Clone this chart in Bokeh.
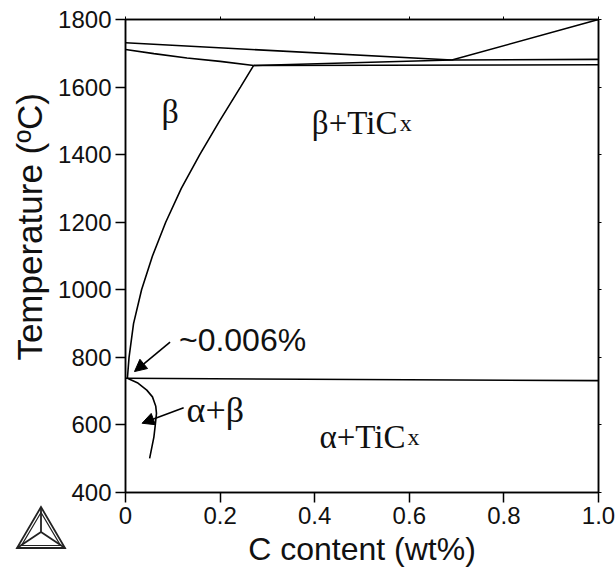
from bokeh.plotting import figure
from bokeh.models import (Range1d, FixedTicker, LinearAxis, Arrow, NormalHead,
                          Label, GridBox, Div)
from bokeh.embed import file_html
from bokeh.resources import INLINE

# ---------------- data ----------------
x_ticks = [0.0, 0.2, 0.4, 0.6, 0.8, 1.0]
x_tick_labels = ["0", "0.2", "0.4", "0.6", "0.8", "1.0"]
y_ticks = [400, 600, 800, 1000, 1200, 1400, 1600, 1800]

# liquidus
liq_x = [0.0, 0.69, 1.0]
liq_t = [1731, 1680, 1800]
# beta solidus
sol_x = [0.0, 0.06, 0.13, 0.20, 0.271]
sol_t = [1711, 1699, 1686, 1676, 1664]
# peritectic-side line
per_x = [0.271, 0.69]
per_t = [1664, 1680]
# upper horizontal (right of peritectic)
up_x = [0.69, 1.0]
up_t = [1680, 1682]
# lower horizontal
low_x = [0.271, 1.0]
low_t = [1664, 1666]
# beta / beta+TiCx solvus
solv_x = [0.271, 0.243, 0.199, 0.157, 0.118, 0.085, 0.057, 0.034, 0.017, 0.0075, 0.004]
solv_t = [1664, 1600, 1500, 1400, 1300, 1200, 1100, 1000, 900, 800, 738]
# eutectoid line
eut_x = [0.0, 1.0]
eut_t = [738, 731]
# alpha+beta boundary
ab_x = [0.004, 0.025, 0.045, 0.057, 0.064, 0.0655, 0.063, 0.060, 0.051]
ab_t = [738, 725, 703, 683, 655, 634, 600, 564, 501]

FONT_SANS = "Liberation Sans"
FONT_SERIF = "Liberation Serif"
W, H = 616, 581

p = figure(width=W, height=H, output_backend="svg", toolbar_location=None,
           x_range=Range1d(0, 1.0), y_range=Range1d(400, 1800),
           min_border_left=125, min_border_right=18, min_border_top=19,
           min_border_bottom=89, background_fill_color="white",
           border_fill_color="white", outline_line_color="black",
           outline_line_width=1.5)
p.grid.visible = False

# axes
p.xaxis.ticker = FixedTicker(ticks=x_ticks)
p.xaxis.major_label_overrides = {t: l for t, l in zip(x_ticks, x_tick_labels)}
p.yaxis.ticker = FixedTicker(ticks=y_ticks)
for ax in (p.xaxis[0], p.yaxis[0]):
    ax.minor_tick_line_color = None
    ax.major_tick_out = 10
    ax.major_tick_in = 0
    ax.major_tick_line_width = 1.5
    ax.axis_line_width = 1.5
    ax.major_label_text_font = FONT_SANS
    ax.major_label_text_font_size = "24px"
    ax.major_label_text_color = "#111111"
    ax.axis_label_text_font = FONT_SANS
    ax.axis_label_text_font_style = "normal"
    ax.axis_label_text_color = "#111111"
p.xaxis.axis_label_text_font_size = "32px"
p.yaxis.axis_label_text_font_size = "35px"
p.xaxis.axis_label = "C content (wt%)"
# leading no-break spaces shift the rotated label upward, as in the reference
p.yaxis.axis_label = "\u00a0" * 6 + "Temperature (ºC)"
p.xaxis.major_label_standoff = 4
p.yaxis.major_label_standoff = 4
p.xaxis.axis_label_standoff = 4
p.yaxis.axis_label_standoff = 6

top = LinearAxis(ticker=FixedTicker(ticks=x_ticks),
                 major_label_overrides={t: "" for t in x_ticks},
                 major_tick_out=3, major_tick_in=0, minor_tick_line_color=None,
                 axis_line_width=1.5, major_label_standoff=0)
right = LinearAxis(ticker=FixedTicker(ticks=y_ticks),
                   major_label_overrides={t: "" for t in y_ticks},
                   major_tick_out=3, major_tick_in=0, minor_tick_line_color=None,
                   axis_line_width=1.5, major_label_standoff=0)
p.add_layout(top, "above")
p.add_layout(right, "right")

lw = 1.6
for xs, ts in [(liq_x, liq_t), (sol_x, sol_t), (per_x, per_t), (up_x, up_t),
               (low_x, low_t), (solv_x, solv_t), (eut_x, eut_t), (ab_x, ab_t)]:
    p.line(xs, ts, line_color="black", line_width=lw)

# arrows
p.add_layout(Arrow(x_start=0.0942, y_start=845, x_end=0.019, y_end=758,
                   line_width=1.6, line_color="black",
                   end=NormalHead(size=12, fill_color="black", line_color="black")))
p.add_layout(Arrow(x_start=0.123, y_start=651, x_end=0.035, y_end=605,
                   line_width=1.6, line_color="black",
                   end=NormalHead(size=12, fill_color="black", line_color="black")))

# labels
def lab(x, y, text, font, size):
    p.add_layout(Label(x=x, y=y, text=text, text_font=font, text_font_size=size,
                       text_color="#111111", text_baseline="alphabetic"))

lab(0.076, 1528, "β", FONT_SERIF, "34px")
lab(0.394, 1493, "β+TiC", FONT_SERIF, "33px")
lab(0.580, 1493, "x", FONT_SERIF, "24px")
lab(0.410, 564, "α+TiC", FONT_SERIF, "33px")
lab(0.596, 564, "x", FONT_SERIF, "24px")
lab(0.129, 644, "α+β", FONT_SERIF, "36px")
lab(0.113, 850, "~0.006%", FONT_SANS, "32px")

# ---- Thermo-Calc style logo, as an SVG overlay in the bottom-left corner ----
apex, bl, br, ctr = (41, 507), (17, 548), (65, 548), (41, 532)
inner = [(41, 512.5), (21.5, 545.5), (60.5, 545.5)]
def pts(seq):
    return " ".join(f"{a},{b}" for a, b in seq)
logo_svg = (
    f'<svg xmlns="http://www.w3.org/2000/svg" width="{W}" height="{H}" '
    f'style="position:absolute;left:0;top:0;pointer-events:none">'
    f'<polygon points="{pts([apex, bl, br])}" fill="none" stroke="#222" stroke-width="1.8"/>'
    f'<polygon points="{pts(inner)}" fill="none" stroke="#222" stroke-width="1.2"/>'
    + "".join(f'<line x1="{v[0]}" y1="{v[1]}" x2="{ctr[0]}" y2="{ctr[1]}" '
              f'stroke="#222" stroke-width="1.8"/>' for v in (apex, bl, br))
    + '</svg>'
)
logo = Div(text=logo_svg, width=W, height=H, margin=0,
           styles={"pointer-events": "none"})

layout = GridBox(children=[(p, 0, 0), (logo, 0, 0)])

open("out.html", "w").write(file_html(layout, INLINE))
